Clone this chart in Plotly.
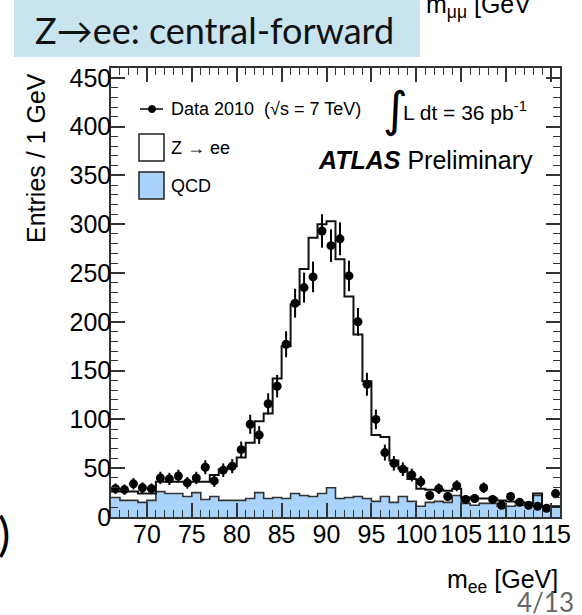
import numpy as np
import plotly.graph_objects as go

# Binning: 1 GeV bins from 66 to 116 GeV
edges = list(range(66, 117))
centers = [e + 0.5 for e in edges[:-1]]

# Observed events per bin (Data 2010)
data_counts = [29, 28, 34, 30, 29, 40, 39, 42, 35, 40,
               51, 37, 48, 52, 69, 95, 84, 116, 134, 177,
               219, 235, 246, 293, 278, 285, 247, 200, 136, 100,
               66, 55, 49, 43, 36, 22, 29, 21, 32, 18,
               19, 30, 18, 12, 21, 15, 12, 11, 9, 24]

# QCD background per bin
qcd_counts = [20, 17, 17, 15, 17, 26, 24, 24, 21, 25,
              18, 21, 17, 17, 17, 19, 25, 19, 20, 19,
              24, 22, 21, 24, 30, 19, 20, 21, 19, 16,
              21, 15, 21, 16, 11, 15, 16, 15, 22, 14,
              12, 14, 14, 11, 11, 12, 12, 22, 10, 10]

# Z -> ee stacked on top of QCD (top of the stack) per bin
zee_stack = [26, 26, 26, 24, 24, 36, 36, 36, 36, 36,
             36, 43, 49, 52, 61, 76, 98, 106, 142, 175,
             218, 254, 286, 300, 303, 264, 226, 187, 139, 84,
             82, 58, 50, 39, 29, 28, 28, 27, 29, 20,
             19, 19, 19, 17, 16, 15, 14, 24, 11, 11]

data_err = np.sqrt(np.array(data_counts, dtype=float))

W, H = 582, 615
L, R, T, B = 111, 560, 68, 517  # plot frame in pixels


def px(xpix):
    return (xpix - L) / (R - L)


def py(ypix):
    return (B - ypix) / (B - T)


def step_y(vals):
    return list(vals) + [vals[-1]]


fig = go.Figure()

fig.add_trace(go.Scatter(
    x=edges, y=step_y(qcd_counts), mode="lines", line_shape="hv",
    line=dict(color="#333333", width=1.6), fill="tozeroy",
    fillcolor="#a9d3fb", hoverinfo="skip", showlegend=False))

fig.add_trace(go.Scatter(
    x=edges, y=step_y(zee_stack), mode="lines", line_shape="hv",
    line=dict(color="#111111", width=2), hoverinfo="skip", showlegend=False))

fig.add_trace(go.Scatter(
    x=centers, y=data_counts, mode="markers",
    marker=dict(color="black", size=9, symbol="circle"),
    error_y=dict(type="data", array=data_err, color="black",
                 thickness=2, width=0),
    showlegend=False))

# Transparent copy on the mirrored axes so the top/right tick frames render
fig.add_trace(go.Scatter(
    x=centers, y=data_counts, mode="markers", xaxis="x2", yaxis="y2",
    marker=dict(opacity=0), hoverinfo="skip", showlegend=False))

axis_font = dict(family="Liberation Sans, Arial, sans-serif", size=25, color="black")
frame = "#333333"

x_ticks = dict(range=[66, 116], tick0=70, dtick=5, ticks="inside", ticklen=14,
               tickwidth=1.5, tickcolor=frame,
               minor=dict(ticks="inside", dtick=1, ticklen=7, tickwidth=1,
                          tickcolor=frame),
               showgrid=False, zeroline=False)
y_ticks = dict(range=[0, 460], tick0=0, dtick=50, ticks="inside", ticklen=14,
               tickwidth=1.5, tickcolor=frame,
               minor=dict(ticks="inside", dtick=10, ticklen=7, tickwidth=1,
                          tickcolor=frame),
               showgrid=False, zeroline=False)

fig.update_layout(
    xaxis=dict(**x_ticks, showline=True, linecolor=frame, linewidth=1.5,
               mirror=True, tickfont=axis_font, ticklabelstandoff=-6),
    yaxis=dict(**y_ticks, showline=True, linecolor=frame, linewidth=1.5,
               mirror=True, tickfont=axis_font, ticklabelstandoff=-7),
    xaxis2=dict(**x_ticks, overlaying="x", side="top", anchor="y",
                showticklabels=False, showline=False),
    yaxis2=dict(**y_ticks, overlaying="y", side="right", anchor="x",
                showticklabels=False, showline=False),
)

shapes = []
annotations = []

# Slide title banner
shapes.append(dict(type="rect", xref="paper", yref="paper",
                   x0=px(14), x1=px(420), y0=py(57), y1=py(-5),
                   fillcolor="#c8e4ee", line=dict(width=0), layer="below"))
annotations.append(dict(text="Z→ee: central-forward", xref="paper", yref="paper",
                        x=px(33), y=py(30), xanchor="left", yanchor="middle",
                        showarrow=False,
                        font=dict(family="Lato, Open Sans, sans-serif", size=36,
                                  color="#111111")))
annotations.append(dict(text="m<sub>μμ</sub> [GeV", xref="paper", yref="paper",
                        x=px(424), y=py(6), xanchor="left", yanchor="middle",
                        showarrow=False,
                        font=dict(family="Liberation Sans, Arial", size=25,
                                  color="black")))
annotations.append(dict(text=")", xref="paper", yref="paper",
                        x=px(12), y=py(533), xanchor="right", yanchor="middle",
                        showarrow=False,
                        font=dict(family="Lato, Open Sans, sans-serif", size=46,
                                  color="black")))

# Legend: data
shapes.append(dict(type="line", xref="paper", yref="paper",
                   x0=px(140), x1=px(163), y0=py(109), y1=py(109),
                   line=dict(color="black", width=1.5)))
shapes.append(dict(type="circle", xref="paper", yref="paper",
                   x0=px(148.5), x1=px(155.5), y0=py(105.5), y1=py(112.5),
                   fillcolor="black", line=dict(color="black", width=1)))
annotations.append(dict(text="Data 2010  (√s = 7 TeV)", xref="paper", yref="paper",
                        x=px(169), y=py(109), xanchor="left", yanchor="middle",
                        showarrow=False,
                        font=dict(family="Liberation Sans, Arial", size=18,
                                  color="black")))
# Legend: Z -> ee
shapes.append(dict(type="rect", xref="paper", yref="paper",
                   x0=px(139), x1=px(164), y0=py(161), y1=py(134),
                   fillcolor="white", line=dict(color="#222222", width=1.5)))
annotations.append(dict(text="Z → ee", xref="paper", yref="paper",
                        x=px(169), y=py(148), xanchor="left", yanchor="middle",
                        showarrow=False,
                        font=dict(family="Liberation Sans, Arial", size=18,
                                  color="black")))
# Legend: QCD
shapes.append(dict(type="rect", xref="paper", yref="paper",
                   x0=px(139), x1=px(164), y0=py(199), y1=py(172),
                   fillcolor="#a9d3fb", line=dict(color="#222222", width=1.5)))
annotations.append(dict(text="QCD", xref="paper", yref="paper",
                        x=px(169), y=py(186), xanchor="left", yanchor="middle",
                        showarrow=False,
                        font=dict(family="Liberation Sans, Arial", size=18,
                                  color="black")))

# Luminosity and experiment labels
annotations.append(dict(text="∫", xref="paper", yref="paper",
                        x=px(395), y=py(109), xanchor="center", yanchor="middle",
                        showarrow=False,
                        font=dict(family="DejaVu Sans", size=48, color="black")))
annotations.append(dict(text="L dt = 36 pb<sup>-1</sup>", xref="paper", yref="paper",
                        x=px(401), y=py(111), xanchor="left", yanchor="middle",
                        showarrow=False,
                        font=dict(family="Liberation Sans, Arial", size=21,
                                  color="black")))
annotations.append(dict(text="<b><i>ATLAS</i></b> Preliminary", xref="paper",
                        yref="paper", x=px(316), y=py(160), xanchor="left",
                        yanchor="middle", showarrow=False,
                        font=dict(family="Liberation Sans, Arial", size=25,
                                  color="black")))

# Axis titles
annotations.append(dict(text="Entries / 1 GeV", xref="paper", yref="paper",
                        x=px(36), y=py(158), xanchor="center", yanchor="middle",
                        textangle=-90, showarrow=False,
                        font=dict(family="Liberation Sans, Arial", size=25,
                                  color="black")))
annotations.append(dict(text="m<sub>ee</sub> [GeV]", xref="paper", yref="paper",
                        x=px(560), y=py(581), xanchor="right", yanchor="middle",
                        showarrow=False,
                        font=dict(family="Liberation Sans, Arial", size=25,
                                  color="black")))
annotations.append(dict(text="4/13", xref="paper", yref="paper",
                        x=px(576), y=py(602), xanchor="right", yanchor="middle",
                        showarrow=False,
                        font=dict(family="Lato, Open Sans, sans-serif", size=26,
                                  color="#666666")))

fig.update_layout(width=W, height=H, margin=dict(l=L, r=W - R, t=T, b=H - B),
                  plot_bgcolor="white", paper_bgcolor="white",
                  shapes=shapes, annotations=annotations, showlegend=False)

fig.write_html("out.html")
